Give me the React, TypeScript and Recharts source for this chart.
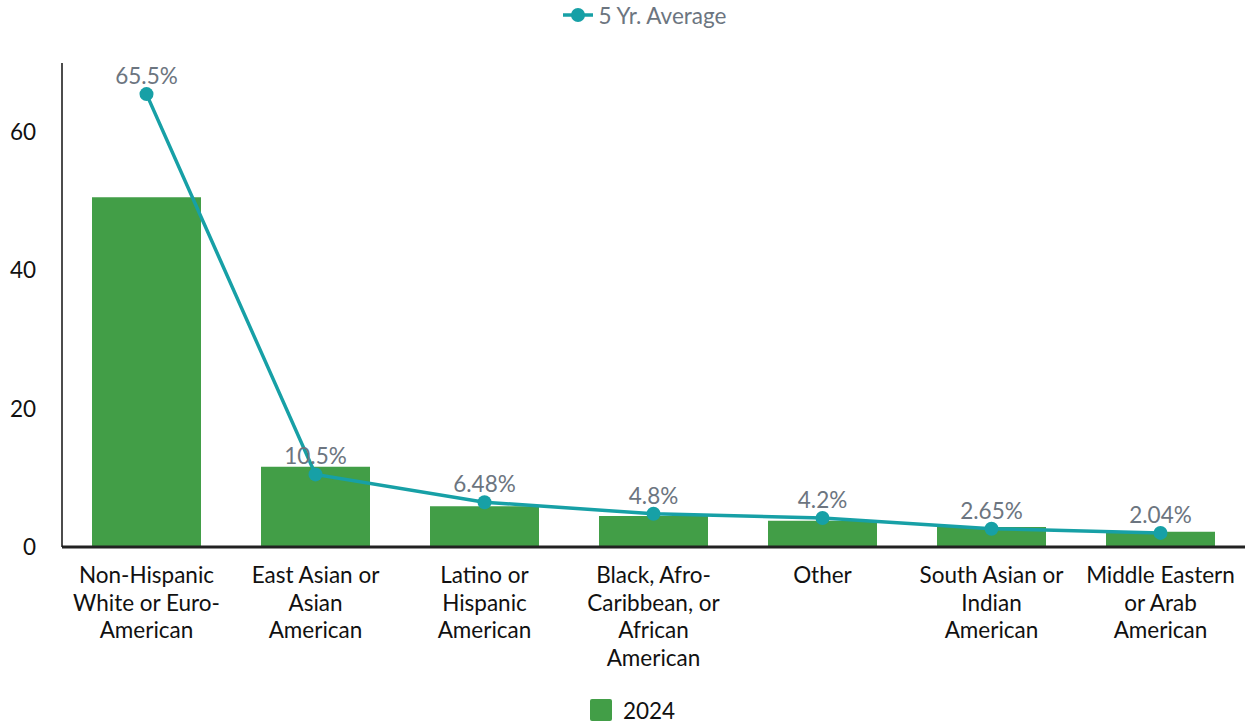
import React from 'react';
import { ComposedChart, Bar, Line, XAxis, YAxis, Legend, LabelList } from 'recharts';

const categories = [
  'Non-Hispanic\nWhite or Euro-\nAmerican',
  'East Asian or\nAsian\nAmerican',
  'Latino or\nHispanic\nAmerican',
  'Black, Afro-\nCaribbean, or\nAfrican\nAmerican',
  'Other',
  'South Asian or\nIndian\nAmerican',
  'Middle Eastern\nor Arab\nAmerican',
];
const values2024 = [50.6, 11.6, 5.9, 4.5, 3.8, 2.9, 2.2];
const fiveYrAverage = [65.5, 10.5, 6.48, 4.8, 4.2, 2.65, 2.04];
const yTicks = [0, 20, 40, 60];

const data = categories.map((c, i) => ({ name: c, y2024: values2024[i], avg: fiveYrAverage[i] }));

const FONT = 'Lato, "Noto Sans", sans-serif';
const FS = 22.5;
const TEAL = '#17a0a6';
const GREEN = '#429e47';
const GRAY = '#6c7580';

const XTick = (props: any) => {
  const { x, y, payload } = props;
  const lines = String(payload.value).split('\n');
  return (
    <text x={x} y={y} textAnchor="middle" fontFamily={FONT} fontSize={FS} fill="#111">
      {lines.map((l, i) => (
        <tspan key={i} x={x} dy={i === 0 ? 28 : 27.6}>{l}</tspan>
      ))}
    </text>
  );
};

const YTick = (props: any) => {
  const { x, y, payload } = props;
  return (
    <text x={x} y={y} dy={8} textAnchor="end" fontFamily={FONT} fontSize={FS} fill="#111">
      {payload.value}
    </text>
  );
};

const BottomLegend = () => (
  <div style={{ display: 'flex', justifyContent: 'center', alignItems: 'center', fontFamily: FONT, fontSize: FS, color: '#111', height: 30, paddingLeft: 12 }}>
    <span style={{ display: 'inline-block', width: 22, height: 22, background: GREEN, borderRadius: 2, marginRight: 11 }} />
    <span>2024</span>
  </div>
);

export default function App() {
  return (
    <div style={{ position: 'absolute', left: 0, top: 0, width: 1249, height: 728, background: '#fff' }}>
      <div style={{ position: 'absolute', left: 0, top: 0, width: 1249, height: 30, display: 'flex', justifyContent: 'center', alignItems: 'center', fontFamily: FONT, fontSize: FS, color: GRAY, zIndex: 2, paddingLeft: 40, boxSizing: 'border-box' }}>
        <svg width={30} height={16} style={{ marginRight: 6 }}>
          <line x1={0} y1={8} x2={30} y2={8} stroke={TEAL} strokeWidth={3.5} />
          <circle cx={15} cy={8} r={7} fill={TEAL} />
        </svg>
        <span>5 Yr. Average</span>
      </div>
      <ComposedChart width={1249} height={728} data={data} margin={{ top: 63, right: 4, bottom: 0, left: 8 }}>
        <XAxis
          dataKey="name"
          interval={0}
          tick={<XTick />}
          tickLine={false}
          axisLine={{ stroke: '#222', strokeWidth: 3 }}
          height={148}
        />
        <YAxis
          domain={[0, 70]}
          ticks={yTicks}
          tickLine={false}
          axisLine={{ stroke: '#111', strokeWidth: 1.5 }}
          width={54}
          tickMargin={20}
          tick={<YTick />}
        />
        <Legend verticalAlign="bottom" height={33} content={() => <BottomLegend />} />
        <Bar dataKey="y2024" name="2024" fill={GREEN} barSize={109} isAnimationActive={false} />
        <Line
          dataKey="avg"
          name="5 Yr. Average"
          type="linear"
          stroke={TEAL}
          strokeWidth={3.5}
          dot={{ r: 7, fill: TEAL, stroke: TEAL, strokeWidth: 0 }}
          activeDot={false}
          isAnimationActive={false}
        >
          <LabelList dataKey="avg" position="top" offset={10} formatter={(v: any) => `${v}%`} style={{ fontFamily: FONT, fontSize: FS, fill: GRAY }} />
        </Line>
      </ComposedChart>
    </div>
  );
}
